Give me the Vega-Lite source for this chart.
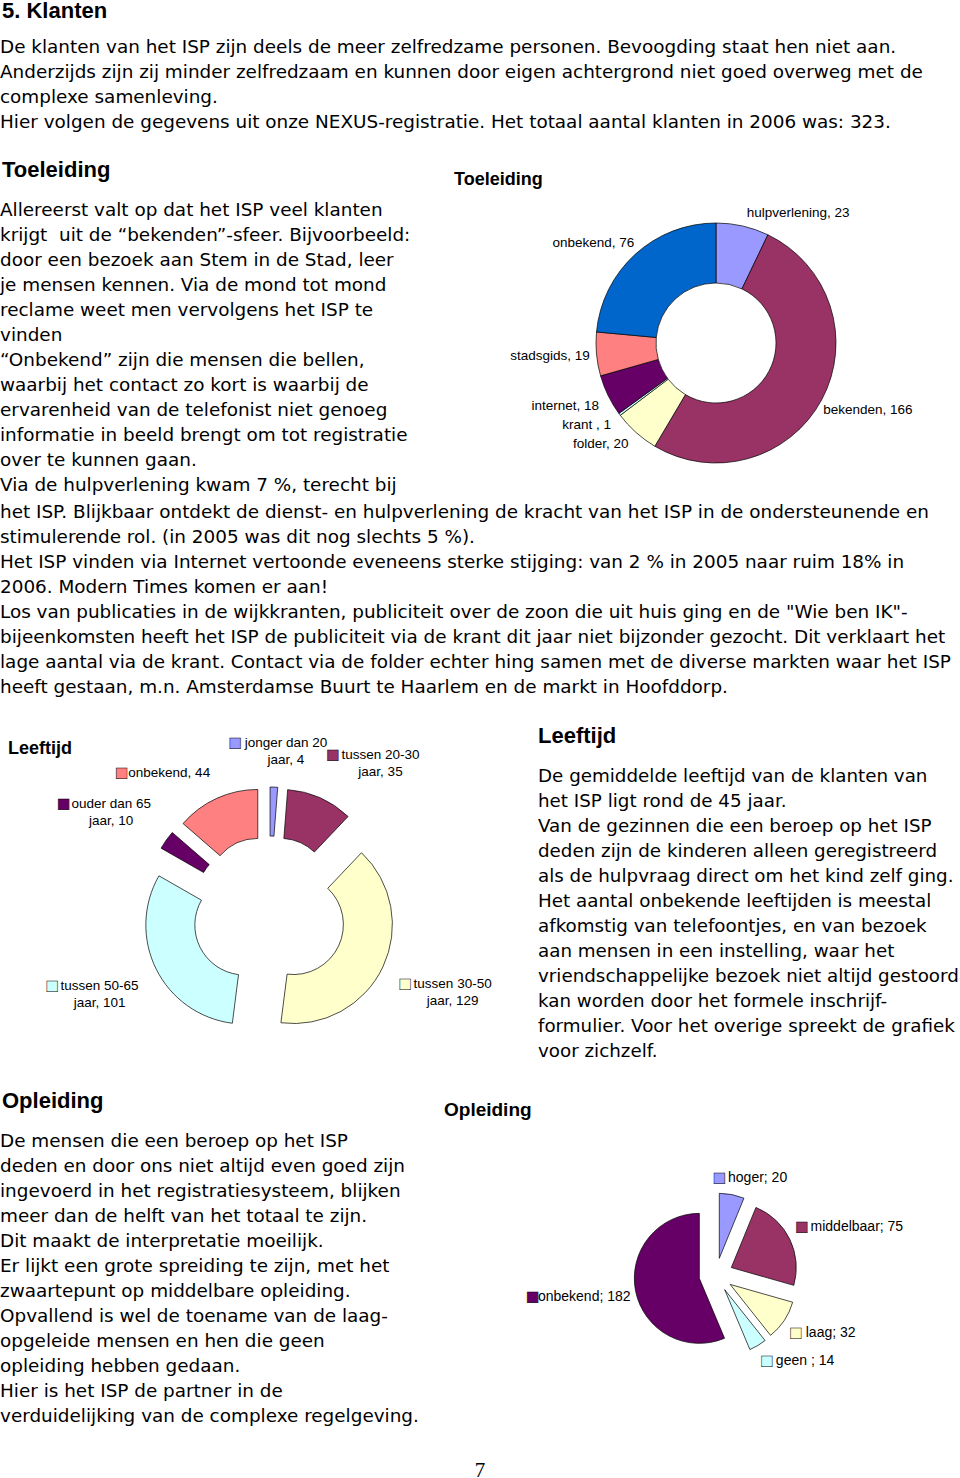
{
  "$schema": "https://vega.github.io/schema/vega-lite/v6.json",
  "background": "white",
  "padding": 0,
  "config": {"view": {"stroke": null}},
  "spacing": 24.5,
  "resolve": {"scale": {"color": "independent", "theta": "independent"}},
  "vconcat": [
    {
      "title": {"text": "5. Klanten", "anchor": "start", "frame": "group", "font": "Liberation Sans", "fontSize": 22, "fontWeight": "bold", "color": "black", "offset": 11, "dx": 2},
      "width": 960, "height": {"step": 25},
      "data": {"values": [
        {"line": 1, "t": "De klanten van het ISP zijn deels de meer zelfredzame personen. Bevoogding staat hen niet aan."},
        {"line": 2, "t": "Anderzijds zijn zij minder zelfredzaam en kunnen door eigen achtergrond niet goed overweg met de"},
        {"line": 3, "t": "complexe samenleving."},
        {"line": 4, "t": "Hier volgen de gegevens uit onze NEXUS-registratie. Het totaal aantal klanten in 2006 was: 323."}
      ]},
      "mark": {"type": "text", "align": "left", "baseline": "middle", "font": "DejaVu Sans", "fontSize": 18.4, "color": "black"},
      "encoding": {"y": {"field": "line", "type": "ordinal", "axis": null}, "x": {"value": 0}, "text": {"field": "t"}}
    },
    {
      "spacing": 25.5,
      "resolve": {"scale": {"color": "independent", "theta": "independent"}},
      "vconcat": [
        {
          "spacing": 2,
          "resolve": {"scale": {"color": "independent", "theta": "independent"}},
          "vconcat": [
            {
              "spacing": -18,
              "resolve": {"scale": {"color": "independent", "theta": "independent"}},
              "hconcat": [
                {
                  "title": {"text": "Toeleiding", "anchor": "start", "frame": "group", "font": "Liberation Sans", "fontSize": 22, "fontWeight": "bold", "color": "black", "offset": 16, "dx": 2},
                  "width": 472, "height": {"step": 25},
                  "data": {"values": [
                    {"line": 1, "t": "Allereerst valt op dat het ISP veel klanten"},
                    {"line": 2, "t": "krijgt\u00a0 uit de “bekenden”-sfeer. Bijvoorbeeld:"},
                    {"line": 3, "t": "door een bezoek aan Stem in de Stad, leer"},
                    {"line": 4, "t": "je mensen kennen. Via de mond tot mond"},
                    {"line": 5, "t": "reclame weet men vervolgens het ISP te"},
                    {"line": 6, "t": "vinden"},
                    {"line": 7, "t": "“Onbekend” zijn die mensen die bellen,"},
                    {"line": 8, "t": "waarbij het contact zo kort is waarbij de"},
                    {"line": 9, "t": "ervarenheid van de telefonist niet genoeg"},
                    {"line": 10, "t": "informatie in beeld brengt om tot registratie"},
                    {"line": 11, "t": "over te kunnen gaan."},
                    {"line": 12, "t": "Via de hulpverlening kwam 7 %, terecht bij"}
                  ]},
                  "mark": {"type": "text", "align": "left", "baseline": "middle", "font": "DejaVu Sans", "fontSize": 18.4, "color": "black"},
                  "encoding": {"y": {"field": "line", "type": "ordinal", "axis": null}, "x": {"value": 0}, "text": {"field": "t"}}
                },
                {
                  "title": {"text": "Toeleiding", "anchor": "start", "frame": "group", "font": "Liberation Sans", "fontSize": 18, "fontWeight": "bold", "color": "black", "offset": 8.5, "dx": -18},
                  "width": 488, "height": 291,
                  "data": {"values": [
                    {"i": 1, "cat": "hulpverlening", "n": 23, "label": "hulpverlening, 23"},
                    {"i": 2, "cat": "bekenden", "n": 166, "label": "bekenden, 166"},
                    {"i": 3, "cat": "folder", "n": 20, "label": "folder, 20"},
                    {"i": 4, "cat": "krant", "n": 1, "label": "krant , 1"},
                    {"i": 5, "cat": "internet", "n": 18, "label": "internet, 18"},
                    {"i": 6, "cat": "stadsgids", "n": 19, "label": "stadsgids, 19"},
                    {"i": 7, "cat": "onbekend", "n": 76, "label": "onbekend, 76"}
                  ]},
                  "encoding": {
                    "theta": {"field": "n", "type": "quantitative", "stack": true},
                    "order": {"field": "i", "type": "quantitative"}
                  },
                  "layer": [
                    {
                      "mark": {"type": "arc", "outerRadius": 120, "innerRadius": 60, "stroke": "black", "strokeWidth": 0.7},
                      "encoding": {"color": {"field": "cat", "type": "nominal", "legend": null,
                        "scale": {"domain": ["hulpverlening", "bekenden", "folder", "krant", "internet", "stadsgids", "onbekend"],
                                  "range": ["#9999FF", "#993366", "#FFFFCC", "#CCFFFF", "#660066", "#FF8080", "#0066CC"]}}}
                    },
                    {
                      "mark": {"type": "text", "radius": 125, "font": "Liberation Sans", "fontSize": 13.5, "color": "black", "align": "center", "baseline": "middle",
                        "dx": {"expr": "clamp(5*sin(PI*(datum.n_start+datum.n_end)/323),-1,1)*3.2*length(datum.label)"},
                        "dy": {"expr": "-clamp(2.5*cos(PI*(datum.n_start+datum.n_end)/323),-1,1)*8"}},
                      "encoding": {"text": {"field": "label", "type": "nominal"}}
                    }
                  ]
                }
              ]
            },
            {
              "width": 960, "height": {"step": 25},
              "data": {"values": [
                {"line": 1, "t": "het ISP. Blijkbaar ontdekt de dienst- en hulpverlening de kracht van het ISP in de ondersteunende en"},
                {"line": 2, "t": "stimulerende rol. (in 2005 was dit nog slechts 5 %)."},
                {"line": 3, "t": "Het ISP vinden via Internet vertoonde eveneens sterke stijging: van 2 % in 2005 naar ruim 18% in"},
                {"line": 4, "t": "2006. Modern Times komen er aan!"},
                {"line": 5, "t": "Los van publicaties in de wijkkranten, publiciteit over de zoon die uit huis ging en de \"Wie ben IK\"-"},
                {"line": 6, "t": "bijeenkomsten heeft het ISP de publiciteit via de krant dit jaar niet bijzonder gezocht. Dit verklaart het"},
                {"line": 7, "t": "lage aantal via de krant. Contact via de folder echter hing samen met de diverse markten waar het ISP"},
                {"line": 8, "t": "heeft gestaan, m.n. Amsterdamse Buurt te Haarlem en de markt in Hoofddorp."}
              ]},
              "mark": {"type": "text", "align": "left", "baseline": "middle", "font": "DejaVu Sans", "fontSize": 18.4, "color": "black"},
              "encoding": {"y": {"field": "line", "type": "ordinal", "axis": null}, "x": {"value": 0}, "text": {"field": "t"}}
            }
          ]
        },
        {
          "spacing": 25.5,
          "resolve": {"scale": {"color": "independent", "theta": "independent"}},
          "vconcat": [
            {
              "spacing": 0,
              "resolve": {"scale": {"color": "independent", "theta": "independent"}},
              "hconcat": [
                {
                  "title": {"text": "Leeftijd", "anchor": "start", "frame": "group", "font": "Liberation Sans", "fontSize": 18, "fontWeight": "bold", "color": "black", "offset": -22, "dx": 8},
                  "width": 538, "height": 298,
                  "data": {"values": [
                    {"i": 1, "cat": "jonger dan 20", "n": 4, "lines": ["jonger dan 20", "jaar, 4"]},
                    {"i": 2, "cat": "tussen 20-30", "n": 35, "lines": ["tussen 20-30", "jaar, 35"]},
                    {"i": 3, "cat": "tussen 30-50", "n": 129, "lines": ["tussen 30-50", "jaar, 129"]},
                    {"i": 4, "cat": "tussen 50-65", "n": 101, "lines": ["tussen 50-65", "jaar, 101"]},
                    {"i": 5, "cat": "ouder dan 65", "n": 10, "lines": ["ouder dan 65", "jaar, 10"]},
                    {"i": 6, "cat": "onbekend", "n": 44, "lines": ["onbekend, 44"]}
                  ]},
                  "encoding": {
                    "theta": {"field": "n", "type": "quantitative", "stack": true},
                    "order": {"field": "i", "type": "quantitative"},
                    "color": {"field": "cat", "type": "nominal", "legend": null,
                      "scale": {"domain": ["jonger dan 20", "tussen 20-30", "tussen 30-50", "tussen 50-65", "ouder dan 65", "onbekend"],
                                "range": ["#9999FF", "#993366", "#FFFFCC", "#CCFFFF", "#660066", "#FF8080"]}}
                  },
                  "layer": [
                    {
                      "mark": {"type": "arc", "outerRadius": 99, "innerRadius": 50, "stroke": "black", "strokeWidth": 0.7,
                        "xOffset": {"expr": "27*sin(PI*(datum.n_start+datum.n_end)/323)"},
                        "yOffset": {"expr": "-27*cos(PI*(datum.n_start+datum.n_end)/323)"}}
                    },
                    {
                      "mark": {"type": "text", "radius": 145, "font": "Liberation Sans", "fontSize": 13.5, "align": "center", "baseline": "middle", "lineHeight": 17,
                        "dx": {"expr": "clamp(2.5*sin(PI*(datum.n_start+datum.n_end)/323),-1,1)*(13+6.6*length(datum.lines[0]))/2+6.5"},
                        "dy": {"expr": "-clamp(2.5*cos(PI*(datum.n_start+datum.n_end)/323),-1,1)*8.5*length(datum.lines)-8.5*(length(datum.lines)-1)"}},
                      "encoding": {"text": {"field": "lines", "type": "nominal"}, "color": {"value": "black"}}
                    },
                    {
                      "mark": {"type": "text", "radius": 145, "font": "DejaVu Sans", "fontSize": 14, "stroke": "black", "strokeWidth": 0.5, "align": "center", "baseline": "middle",
                        "dx": {"expr": "clamp(2.5*sin(PI*(datum.n_start+datum.n_end)/323),-1,1)*(13+6.6*length(datum.lines[0]))/2-(13+6.6*length(datum.lines[0]))/2+5"},
                        "dy": {"expr": "-clamp(2.5*cos(PI*(datum.n_start+datum.n_end)/323),-1,1)*8.5*length(datum.lines)-8.5*(length(datum.lines)-1)"}},
                      "encoding": {"text": {"value": "■"}}
                    }
                  ]
                },
                {
                  "title": {"text": "Leeftijd", "anchor": "start", "frame": "group", "font": "Liberation Sans", "fontSize": 22, "fontWeight": "bold", "color": "black", "offset": 16},
                  "width": 422, "height": {"step": 25},
                  "data": {"values": [
                    {"line": 1, "t": "De gemiddelde leeftijd van de klanten van"},
                    {"line": 2, "t": "het ISP ligt rond de 45 jaar."},
                    {"line": 3, "t": "Van de gezinnen die een beroep op het ISP"},
                    {"line": 4, "t": "deden zijn de kinderen alleen geregistreerd"},
                    {"line": 5, "t": "als de hulpvraag direct om het kind zelf ging."},
                    {"line": 6, "t": "Het aantal onbekende leeftijden is meestal"},
                    {"line": 7, "t": "afkomstig van telefoontjes, en van bezoek"},
                    {"line": 8, "t": "aan mensen in een instelling, waar het"},
                    {"line": 9, "t": "vriendschappelijke bezoek niet altijd gestoord"},
                    {"line": 10, "t": "kan worden door het formele inschrijf-"},
                    {"line": 11, "t": "formulier. Voor het overige spreekt de grafiek"},
                    {"line": 12, "t": "voor zichzelf."}
                  ]},
                  "mark": {"type": "text", "align": "left", "baseline": "middle", "font": "DejaVu Sans", "fontSize": 18.3, "color": "black"},
                  "encoding": {"y": {"field": "line", "type": "ordinal", "axis": null}, "x": {"value": 0}, "text": {"field": "t"}}
                }
              ]
            },
            {
              "spacing": 31.5,
              "resolve": {"scale": {"color": "independent", "theta": "independent"}},
              "vconcat": [
                {
                  "spacing": -28,
                  "resolve": {"scale": {"color": "independent", "theta": "independent"}},
                  "hconcat": [
                    {
                      "title": {"text": "Opleiding", "anchor": "start", "frame": "group", "font": "Liberation Sans", "fontSize": 22, "fontWeight": "bold", "color": "black", "offset": 16, "dx": 2},
                      "width": 472, "height": {"step": 25},
                      "data": {"values": [
                        {"line": 1, "t": "De mensen die een beroep op het ISP"},
                        {"line": 2, "t": "deden en door ons niet altijd even goed zijn"},
                        {"line": 3, "t": "ingevoerd in het registratiesysteem, blijken"},
                        {"line": 4, "t": "meer dan de helft van het totaal te zijn."},
                        {"line": 5, "t": "Dit maakt de interpretatie moeilijk."},
                        {"line": 6, "t": "Er lijkt een grote spreiding te zijn, met het"},
                        {"line": 7, "t": "zwaartepunt op middelbare opleiding."},
                        {"line": 8, "t": "Opvallend is wel de toename van de laag-"},
                        {"line": 9, "t": "opgeleide mensen en hen die geen"},
                        {"line": 10, "t": "opleiding hebben gedaan."},
                        {"line": 11, "t": "Hier is het ISP de partner in de"},
                        {"line": 12, "t": "verduidelijking van de complexe regelgeving."}
                      ]},
                      "mark": {"type": "text", "align": "left", "baseline": "middle", "font": "DejaVu Sans", "fontSize": 18.4, "color": "black"},
                      "encoding": {"y": {"field": "line", "type": "ordinal", "axis": null}, "x": {"value": 0}, "text": {"field": "t"}}
                    },
                    {
                      "title": {"text": "Opleiding", "anchor": "start", "frame": "group", "font": "Liberation Sans", "fontSize": 19, "fontWeight": "bold", "color": "black", "offset": 8.5, "dx": -28},
                      "width": 488, "height": 293,
                      "data": {"values": [
                        {"i": 1, "cat": "hoger", "n": 20, "lines": ["hoger; 20"]},
                        {"i": 2, "cat": "middelbaar", "n": 75, "lines": ["middelbaar; 75"]},
                        {"i": 3, "cat": "laag", "n": 32, "lines": ["laag; 32"]},
                        {"i": 4, "cat": "geen", "n": 14, "lines": ["geen ; 14"]},
                        {"i": 5, "cat": "onbekend", "n": 182, "lines": ["onbekend; 182"]}
                      ]},
                      "encoding": {
                        "theta": {"field": "n", "type": "quantitative", "stack": true},
                        "order": {"field": "i", "type": "quantitative"},
                        "color": {"field": "cat", "type": "nominal", "legend": null,
                          "scale": {"domain": ["hoger", "middelbaar", "laag", "geen", "onbekend"],
                                    "range": ["#9999FF", "#993366", "#FFFFCC", "#CCFFFF", "#660066"]}}
                      },
                      "layer": [
                        {
                          "mark": {"type": "arc", "outerRadius": 65, "stroke": "black", "strokeWidth": 0.7,
                            "xOffset": {"expr": "17*sin(PI*(datum.n_start+datum.n_end)/323)"},
                            "yOffset": {"expr": "-17*cos(PI*(datum.n_start+datum.n_end)/323)"}}
                        },
                        {
                          "mark": {"type": "text", "radius": 90, "font": "Liberation Sans", "fontSize": 14, "align": "center", "baseline": "middle",
                            "dx": {"expr": "clamp(2.5*sin(PI*(datum.n_start+datum.n_end)/323),-1,1)*(13+6.7*length(datum.lines[0]))/2+6.5"},
                            "dy": {"expr": "-clamp(2.5*cos(PI*(datum.n_start+datum.n_end)/323),-1,1)*8.5*length(datum.lines)"}},
                          "encoding": {"text": {"field": "lines", "type": "nominal"}, "color": {"value": "black"}}
                        },
                        {
                          "mark": {"type": "text", "radius": 90, "font": "DejaVu Sans", "fontSize": 14, "stroke": "black", "strokeWidth": 0.5, "align": "center", "baseline": "middle",
                            "dx": {"expr": "clamp(2.5*sin(PI*(datum.n_start+datum.n_end)/323),-1,1)*(13+6.7*length(datum.lines[0]))/2-(13+6.7*length(datum.lines[0]))/2+5"},
                            "dy": {"expr": "-clamp(2.5*cos(PI*(datum.n_start+datum.n_end)/323),-1,1)*8.5*length(datum.lines)"}},
                          "encoding": {"text": {"value": "■"}}
                        }
                      ]
                    }
                  ]
                },
                {
                  "width": 960, "height": 20,
                  "data": {"values": [{"page": "7"}]},
                  "mark": {"type": "text", "align": "center", "baseline": "middle", "font": "Liberation Serif", "fontSize": 21, "color": "black"},
                  "encoding": {"text": {"field": "page", "type": "nominal"}}
                }
              ]
            }
          ]
        }
      ]
    }
  ]
}
